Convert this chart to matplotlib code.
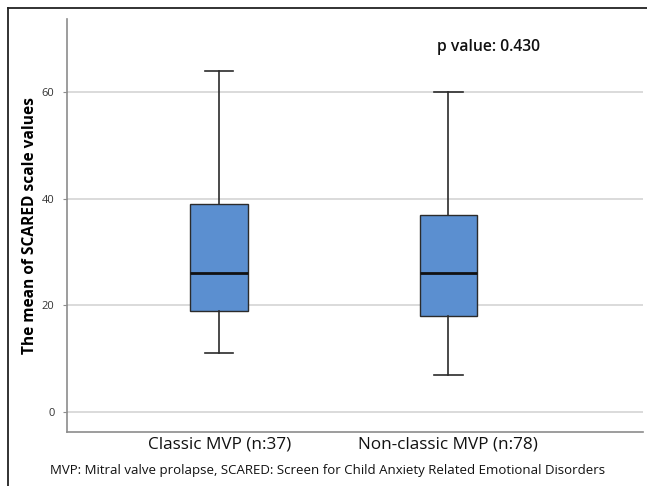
import matplotlib
matplotlib.use("Agg")
import matplotlib.pyplot as plt
from matplotlib.lines import Line2D

plt.rcParams['font.family'] = ['Open Sans', 'DejaVu Sans']

# box plot summary values
groups = ["Classic MVP (n:37)", "Non-classic MVP (n:78)"]
whisker_low = [11, 7]
q1 = [19, 18]
median = [26, 26]
q3 = [39, 37]
whisker_high = [64, 60]
y_ticks = [0, 20, 40, 60]
p_text = "p value: 0.430"
caption = "MVP: Mitral valve prolapse, SCARED: Screen for Child Anxiety Related Emotional Disorders"

fig = plt.figure(figsize=(6.47, 4.86), dpi=100)
ax = fig.add_axes([67 / 647, 54 / 486, 576 / 647, 413 / 486])

stats = []
for i in range(len(groups)):
    stats.append({
        'label': groups[i],
        'whislo': whisker_low[i],
        'q1': q1[i],
        'med': median[i],
        'q3': q3[i],
        'whishi': whisker_high[i],
        'fliers': [],
    })

ax.bxp(stats, positions=[1, 2], widths=0.25, capwidths=0.125,
       patch_artist=True, showfliers=False,
       boxprops=dict(facecolor='#5b8fd0', edgecolor='#2b2b2b', linewidth=1.0),
       medianprops=dict(color='#111111', linewidth=2.0),
       whiskerprops=dict(color='#2b2b2b', linewidth=1.2),
       capprops=dict(color='#2b2b2b', linewidth=1.2))

ax.set_xlim(0.336, 2.85)
ax.set_ylim(-3.75, 73.7)
ax.set_yticks(y_ticks)
ax.yaxis.grid(True, color='#d4d4d4', linewidth=1.2)
ax.set_axisbelow(True)

for s in ['top', 'right']:
    ax.spines[s].set_visible(False)
for s in ['left', 'bottom']:
    ax.spines[s].set_color('#8c8c8c')
    ax.spines[s].set_linewidth(1.2)

ax.tick_params(axis='y', length=3, color='#8c8c8c', labelsize=8, labelcolor='#333333', pad=6)
ax.tick_params(axis='x', length=0, labelsize=12.3, labelcolor='#111111', pad=3)
ax.set_ylabel("The mean of SCARED scale values", fontsize=11.2, fontweight='bold', labelpad=3)

ax.text(1.95, 68.5, p_text, fontsize=11.3, fontweight='semibold', color='#111111', va='center', ha='left')

fig.text(50 / 647, 1 - 470 / 486, caption, fontsize=9.5, color='#111111', va='center', ha='left')

# outer frame (top and left edges)
fig.add_artist(Line2D([8 / 647, 1], [1 - 8.5 / 486, 1 - 8.5 / 486], color='#222222', linewidth=1.3))
fig.add_artist(Line2D([8 / 647, 8 / 647], [0, 1 - 8.5 / 486], color='#222222', linewidth=1.3))

fig.savefig("out.png", dpi=100)
